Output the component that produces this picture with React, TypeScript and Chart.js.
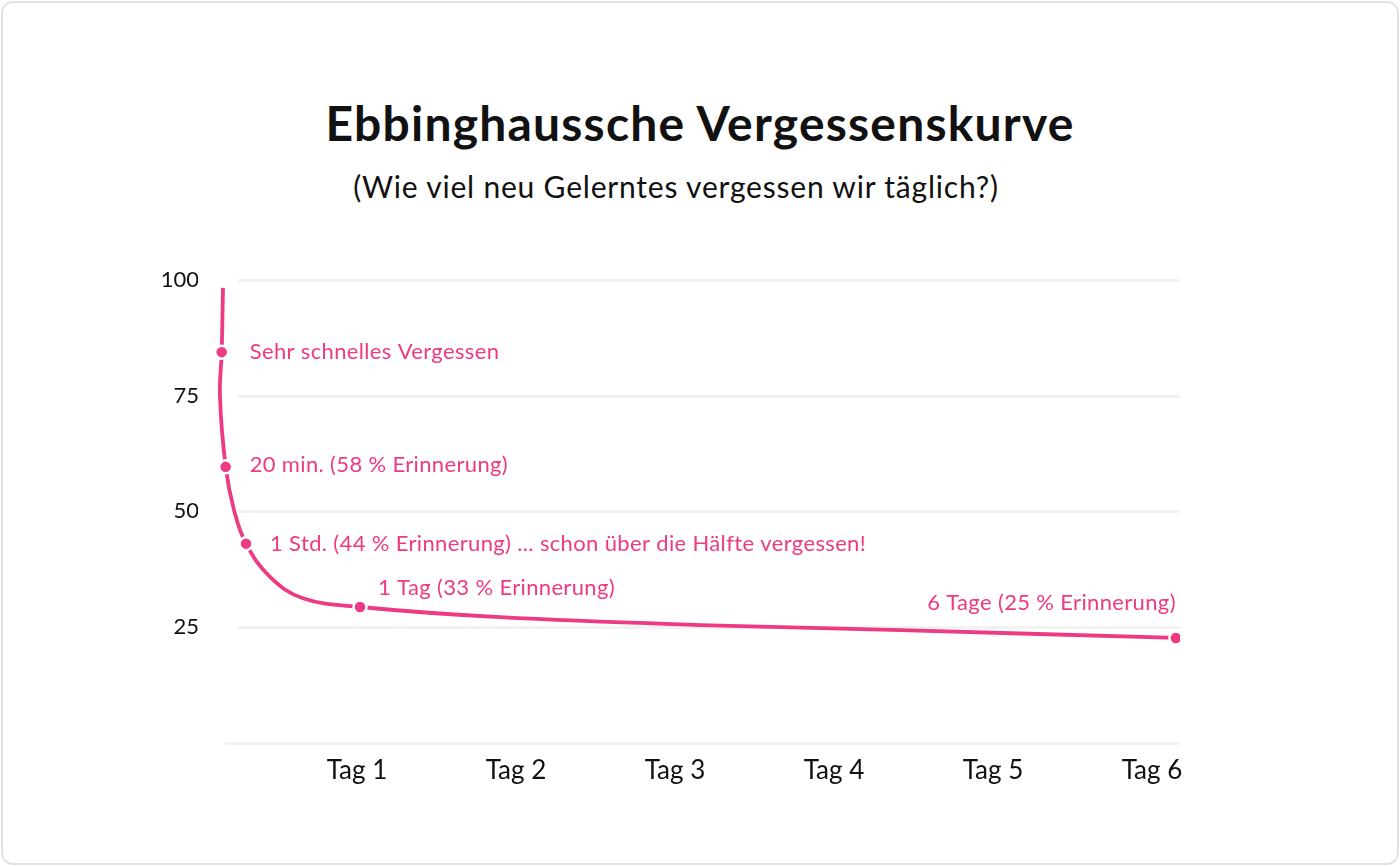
import React, { useEffect, useRef } from "react";
import { Chart, registerables } from "chart.js";

Chart.register(...registerables);

const titleText = "Ebbinghaussche Vergessenskurve";
const subtitleText = "(Wie viel neu Gelerntes vergessen wir täglich?)";

const xTickValues = [1, 2, 3, 4, 5, 6];
const xTickLabels = ["Tag 1", "Tag 2", "Tag 3", "Tag 4", "Tag 5", "Tag 6"];
const yTickValues = [25, 50, 75, 100];

// curve (x in days, y in % retained)
const curveX = [0.157, 0.149, 0.138, 0.174, 0.226, 0.302, 0.453, 0.66, 1.019, 1.9, 3.16, 4.42, 6.15];
const curveY = [98.3, 84.4, 74.9, 59.6, 50.3, 43.0, 35.8, 31.2, 29.3, 27.1, 25.4, 24.3, 22.6];

// marked points
const pointX = [0.149, 0.174, 0.302, 1.019, 6.15];
const pointY = [84.4, 59.6, 43.0, 29.3, 22.6];
const pointLabels = [
  "Sehr schnelles Vergessen",
  "20 min. (58 % Erinnerung)",
  "1 Std. (44 % Erinnerung) ... schon über die Hälfte vergessen!",
  "1 Tag (33 % Erinnerung)",
  "6 Tage (25 % Erinnerung)",
];

// label placement styles (offset from point, alignment)
const labelStyles = [
  { dx: 28, dy: 0, align: "left" },
  { dx: 24, dy: -2, align: "left" },
  { dx: 24, dy: 0, align: "left" },
  { dx: 18, dy: -19, align: "left" },
  { dx: 0, dy: -35, align: "right" },
];

const PINK = "#EE3A82";
const GRID = "#F2F2F2";
const FONT = "Lato, 'Open Sans', sans-serif";

export default function App() {
  const ref = useRef<HTMLCanvasElement | null>(null);

  useEffect(() => {
    if (!ref.current) return;

    const gridPlugin = {
      id: "customGrid",
      beforeDatasetsDraw(chart: any) {
        const { ctx, chartArea, scales } = chart;
        ctx.save();
        ctx.strokeStyle = GRID;
        ctx.lineWidth = 3;
        [0, ...yTickValues].forEach((v) => {
          const y = Math.round(scales.y.getPixelForValue(v)) + 0.5;
          const x0 = v === 0 ? chartArea.left + 27 : chartArea.left + 40;
          ctx.beginPath();
          ctx.moveTo(x0, y);
          ctx.lineTo(chartArea.right, y);
          ctx.stroke();
        });
        ctx.restore();
      },
    };

    const labelPlugin = {
      id: "pointLabels",
      afterDatasetsDraw(chart: any) {
        const { ctx } = chart;
        const meta = chart.getDatasetMeta(0);
        ctx.save();
        ctx.fillStyle = PINK;
        ctx.font = `22px ${FONT}`;
        try {
          (ctx as any).letterSpacing = "0.35px";
        } catch (e) {}
        ctx.textBaseline = "middle";
        meta.data.forEach((pt: any, i: number) => {
          const s = labelStyles[i];
          ctx.textAlign = s.align;
          ctx.fillText(pointLabels[i], pt.x + s.dx, pt.y + s.dy);
        });
        ctx.restore();
      },
    };

    const chart = new Chart(ref.current, {
      type: "scatter",
      data: {
        datasets: [
          {
            label: "points",
            data: pointX.map((x, i) => ({ x, y: pointY[i] })),
            showLine: false,
            pointRadius: 6.5,
            pointBackgroundColor: PINK,
            pointBorderColor: "#ffffff",
            pointBorderWidth: 2.5,
            order: 0,
          },
          {
            label: "curve",
            data: curveX.map((x, i) => ({ x, y: curveY[i] })),
            showLine: true,
            borderColor: PINK,
            borderWidth: 3.8,
            pointRadius: 0,
            tension: 0.4,
            fill: false,
            order: 1,
          },
        ],
      },
      options: {
        responsive: false,
        animation: false,
        devicePixelRatio: 1,
        layout: { padding: { left: 100, top: 280, right: 220, bottom: 63.5 } },
        plugins: {
          legend: { display: false },
          tooltip: { enabled: false },
          title: { display: false },
        },
        scales: {
          x: {
            type: "linear",
            min: 0,
            max: 6.176,
            grid: { display: false, drawTicks: false },
            border: { display: false },
            afterBuildTicks: (scale: any) => {
              scale.ticks = xTickValues.map((v) => ({ value: v }));
            },
            afterFit: (scale: any) => {
              scale.height = 60;
            },
            ticks: {
              color: "#111111",
              font: { family: FONT, size: 26 },
              padding: 13,
              maxRotation: 0,
              autoSkip: false,
              callback: (v: any) => {
                const i = xTickValues.indexOf(Number(v));
                return i >= 0 ? xTickLabels[i] : "";
              },
            },
          },
          y: {
            type: "linear",
            min: 0,
            max: 100,
            grid: { display: false, drawTicks: false },
            border: { display: false },
            afterBuildTicks: (scale: any) => {
              scale.ticks = yTickValues.map((v) => ({ value: v }));
            },
            afterFit: (scale: any) => {
              scale.width = 98;
            },
            ticks: {
              color: "#111111",
              font: { family: FONT, size: 22 },
              padding: -1,
              callback: (v: any) => String(v),
            },
          },
        },
      },
      plugins: [gridPlugin, labelPlugin],
    });

    return () => chart.destroy();
  }, []);

  return (
    <div style={{ position: "fixed", left: 0, top: 0, width: 1400, height: 866, background: "#ffffff" }}>
      <div
        style={{
          position: "absolute",
          left: 1,
          top: 1,
          width: 1398,
          height: 864,
          boxSizing: "border-box",
          border: "2px solid #E3E3E3",
          borderRadius: 12,
        }}
      />
      <div
        style={{
          position: "absolute",
          left: 0,
          top: 96,
          width: 1400,
          textAlign: "center",
          fontFamily: FONT,
          fontWeight: 700,
          fontSize: 48,
          letterSpacing: "1.2px",
          lineHeight: "54px",
          color: "#111111",
        }}
      >
        {titleText}
      </div>
      <div
        style={{
          position: "absolute",
          left: 0,
          top: 168,
          width: 1352,
          textAlign: "center",
          fontFamily: FONT,
          fontSize: 30,
          letterSpacing: "0.8px",
          lineHeight: "36px",
          color: "#111111",
        }}
      >
        {subtitleText}
      </div>
      <canvas ref={ref} width={1400} height={866} style={{ position: "absolute", left: 0, top: 0, width: 1400, height: 866 }} />
    </div>
  );
}
